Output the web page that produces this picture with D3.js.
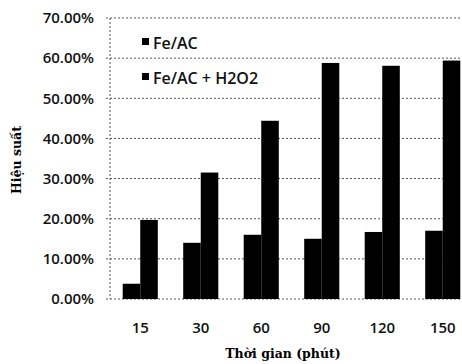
<!DOCTYPE html>
<html>
<head>
<meta charset="utf-8">
<script src="https://cdn.jsdelivr.net/npm/d3@7"></script>
<style>
body { margin: 0; background: #fff; }
</style>
</head>
<body>
<div id="graph"></div>
<script>
// data
let times = ["15", "30", "60", "90", "120", "150"];
let seriesNames = ["Fe/AC", "Fe/AC + H2O2"];
let feAC = [0.038, 0.14, 0.16, 0.15, 0.167, 0.17];
let feACH2O2 = [0.197, 0.315, 0.444, 0.588, 0.581, 0.594];
let yTicks = [0, 0.1, 0.2, 0.3, 0.4, 0.5, 0.6, 0.7];

let width = 462, height = 364;
let margin = {top: 18, left: 110, bottom: 65};

let svg = d3.select("#graph").append("svg")
    .attr("width", width)
    .attr("height", height);

let x = d3.scaleBand().domain(times).range([margin.left, margin.left + 6 * 60.5]);
let xs = d3.scaleBand().domain(seriesNames).range([x.bandwidth() * 0.21, x.bandwidth() * 0.79]);
let y = d3.scaleLinear().domain([0, 0.7]).range([height - margin.bottom, margin.top]);

// gridlines
svg.append("g")
    .selectAll("line")
    .data(yTicks)
    .join("line")
    .attr("x1", margin.left - 4)
    .attr("x2", width)
    .attr("y1", d => y(d))
    .attr("y2", d => y(d))
    .attr("stroke", "#555")
    .attr("stroke-width", 1)
    .attr("stroke-dasharray", "2,2");

// vertical axis line
svg.append("line")
    .attr("x1", margin.left).attr("x2", margin.left)
    .attr("y1", y(0.7)).attr("y2", y(0))
    .attr("stroke", "#555")
    .attr("stroke-dasharray", "2,2");

// bars
let data = times.map((t, i) => ({t: t, vals: [feAC[i], feACH2O2[i]]}));
svg.append("g")
    .selectAll("g")
    .data(data)
    .join("g")
    .attr("transform", d => "translate(" + x(d.t) + ",0)")
    .selectAll("rect")
    .data(d => d.vals.map((v, j) => ({name: seriesNames[j], v: v})))
    .join("rect")
    .attr("x", d => xs(d.name))
    .attr("width", xs.bandwidth())
    .attr("y", d => y(d.v))
    .attr("height", d => y(0) - y(d.v))
    .attr("fill", "#000");

// y axis labels
let yAxis = svg.append("g")
    .attr("transform", "translate(" + (margin.left - 13) + ",0)")
    .call(d3.axisLeft(y).tickValues(yTicks).tickFormat(d3.format(".2%")).tickSize(0));
yAxis.select(".domain").remove();
yAxis.selectAll("text")
    .attr("font-family", "Open Sans, sans-serif")
    .attr("font-size", 15)
    .attr("font-weight", 600)
    .attr("fill", "#111");

// x axis labels
let xAxis = svg.append("g")
    .attr("transform", "translate(0," + (y(0) + 20) + ")")
    .call(d3.axisBottom(x).tickSize(0));
xAxis.select(".domain").remove();
xAxis.selectAll("text")
    .attr("font-family", "Open Sans, sans-serif")
    .attr("font-size", 15)
    .attr("font-weight", 600)
    .attr("fill", "#111");

// axis titles
svg.append("text")
    .attr("x", 283)
    .attr("y", 358)
    .attr("text-anchor", "middle")
    .attr("font-family", "DejaVu Serif, serif")
    .attr("font-size", 12.5)
    .attr("font-weight", "bold")
    .text("Thời gian (phút)");

svg.append("text")
    .attr("transform", "translate(21,160) rotate(-90)")
    .attr("text-anchor", "middle")
    .attr("font-family", "DejaVu Serif, serif")
    .attr("font-size", 12.5)
    .attr("font-weight", "bold")
    .text("Hiệu suất");

// legend
let legend = svg.append("g")
    .selectAll("g")
    .data(seriesNames)
    .join("g")
    .attr("transform", (d, i) => "translate(142," + (37 + i * 35) + ")");
legend.append("rect")
    .attr("width", 7).attr("height", 7)
    .attr("y", 1)
    .attr("fill", "#000");
legend.append("text")
    .attr("x", 11)
    .attr("y", 12)
    .attr("font-family", "Open Sans, sans-serif")
    .attr("font-size", 16)
    .attr("font-weight", 600)
    .attr("fill", "#111")
    .text(d => d);
</script>
</body>
</html>
